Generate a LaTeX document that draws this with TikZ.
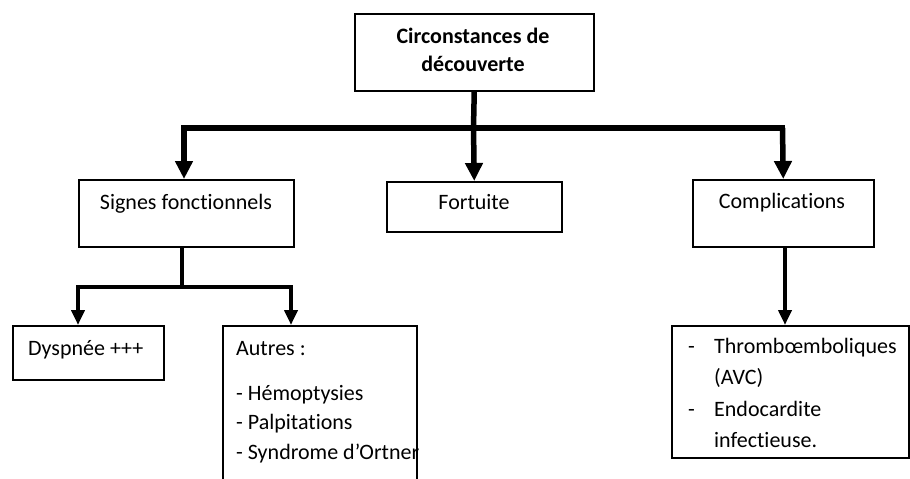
\documentclass[tikz,border=0pt]{standalone}
\usepackage{fontspec}
\setmainfont[Ligatures={NoCommon}]{Carlito}
\usetikzlibrary{arrows.meta}
\begin{document}
\begin{tikzpicture}[x=1pt,y=-1pt,
  box/.style={draw, line width=1.5pt, inner sep=0pt, anchor=north west, fill=white},
  txt/.style={inner sep=0pt, anchor=base west, font=\fontsize{22pt}{28pt}\selectfont},
  txtc/.style={txt, anchor=base},
  bigline/.style={line width=5.5pt},
  bigarr/.style={line width=5.5pt, -{Triangle[length=18pt,width=17pt]}},
  smallline/.style={line width=4pt},
  smallarr/.style={line width=4pt, -{Triangle[length=15pt,width=13pt]}}]
\useasboundingbox (0,0) rectangle (910,479);
\clip (0,0) rectangle (910,479);
\fill[white] (0,0) rectangle (910,479);

% boxes
\node[box, minimum width=239pt, minimum height=77pt] (cdd) at (354,13) {};
\node[box, minimum width=215pt, minimum height=67pt] (sf) at (78,179) {};
\node[box, minimum width=175pt, minimum height=50pt] (fo) at (386,181) {};
\node[box, minimum width=181pt, minimum height=67pt] (co) at (692,179) {};
\node[box, minimum width=151pt, minimum height=54pt] (dy) at (12,325) {};
\node[box, minimum width=194pt, minimum height=170pt] (au) at (222,325) {};
\node[box, minimum width=237pt, minimum height=132pt] (th) at (671,325) {};

% texts
\node[txtc] (t1) at (473,43) {\bfseries Circonstances de};
\node[txtc] (t2) at (473,71) {\bfseries découverte};
\node[txtc] (t3) at (186,209) {Signes fonctionnels};
\node[txtc] (t4) at (474,209) {Fortuite};
\node[txtc] (t5) at (782,208) {Complications};
\node[txt] (t6) at (28,355) {Dyspnée +++};
\node[txt] (t7) at (236,355) {Autres :};
\node[txt] (t8) at (236,400) {- Hémoptysies};
\node[txt] (t9) at (236,429.5) {- Palpitations};
\node[txt] (t10) at (236,459) {- Syndrome d’Ortner};
\node[txt] (d1) at (688,353) {-};
\node[txt] (t11) at (714,353) {Thrombœmboliques};
\node[txt] (t12) at (714,384) {(AVC)};
\node[txt] (d2) at (688,416) {-};
\node[txt] (t13) at (714,416) {Endocardite};
\node[txt] (t14) at (714,447) {infectieuse.};

% top connectors
\coordinate (j) at (473.5,128);
\coordinate (jl) at (184,128);
\coordinate (jr) at (782.5,128);
\draw[bigline] (cdd.south) -- (j);
\draw[bigline, line cap=rect] (jl) -- (jr);
\draw[bigarr] (jl) -- (jl |- sf.north);
\draw[bigarr] (j) -- (fo.north);
\draw[bigarr] (jr) -- (co.north);

% lower left connectors
\coordinate (k) at (182,287);
\coordinate (kl) at (78,287);
\coordinate (kr) at (291,287);
\draw[smallline] (182,246) -- (k);
\draw[smallline, line cap=rect] (kl) -- (kr);
\draw[smallarr] (kl) -- (kl |- dy.north);
\draw[smallarr] (kr) -- (kr |- au.north);

% lower right connector
\coordinate (m) at (785,246);
\draw[smallarr, line width=4.5pt] (m) -- (m |- th.north);
\end{tikzpicture}
\end{document}
